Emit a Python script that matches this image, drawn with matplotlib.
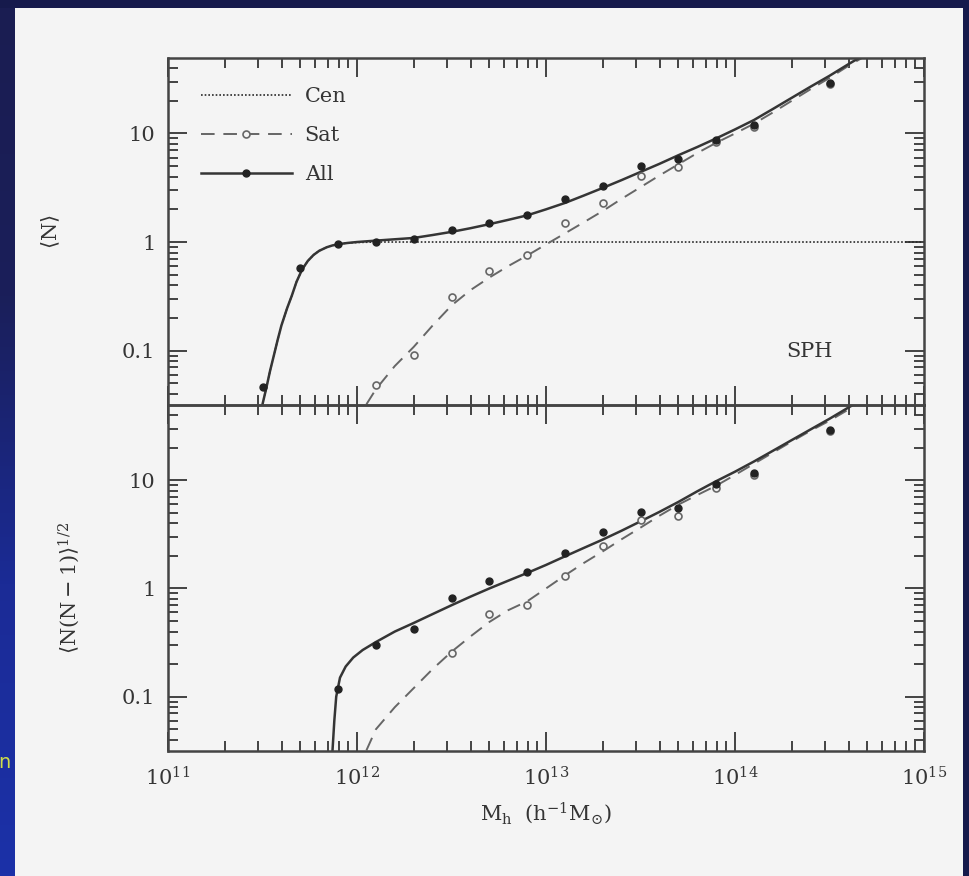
import numpy as np
import matplotlib
matplotlib.use('Agg')
import matplotlib.pyplot as plt
from matplotlib.lines import Line2D
from matplotlib.patches import Rectangle
from matplotlib.colors import LinearSegmentedColormap

plt.rcParams['font.family'] = ['DejaVu Serif']
plt.rcParams['mathtext.fontset'] = 'dejavuserif'

# ---- data ----
# top panel: <N>, points
all_mass = [3.2e11, 5.0e11, 7.9e11, 1.26e12, 2.0e12, 3.2e12, 5.0e12, 7.9e12,
            1.26e13, 2.0e13, 3.2e13, 5.0e13, 7.9e13, 1.26e14, 3.2e14]
all_n = [0.046, 0.58, 0.96, 1.00, 1.06, 1.29, 1.51, 1.77,
         2.47, 3.28, 5.0, 5.8, 8.7, 12.0, 29.0]
sat_mass = [1.26e12, 2.0e12, 3.2e12, 5.0e12, 7.9e12, 1.26e13,
            2.0e13, 3.2e13, 5.0e13, 7.9e13, 1.26e14, 3.2e14]
sat_n = [0.048, 0.091, 0.31, 0.54, 0.76, 1.49, 2.30, 4.1, 4.9, 8.4, 11.5, 28.5]

# top panel: model curves (log10 mass, value)
cen_logm = [11.45, 11.50, 11.52, 11.54, 11.56, 11.58, 11.60, 11.63, 11.655, 11.68,
            11.71, 11.74, 11.77, 11.80, 11.84, 11.87, 11.91, 11.95, 12.0, 12.1,
            12.3, 15.0]
cen_n = [0.02, 0.032, 0.045, 0.065, 0.09, 0.125, 0.17, 0.245, 0.32, 0.43,
         0.56, 0.67, 0.76, 0.83, 0.895, 0.93, 0.96, 0.98, 0.99, 1.0,
         1.0, 1.0]
allc_logm = [11.50, 11.52, 11.54, 11.56, 11.58, 11.60, 11.63, 11.655, 11.68, 11.71,
             11.74, 11.77, 11.80, 11.84, 11.87, 11.91, 11.95, 12.0,
             12.1, 12.2, 12.3, 12.4, 12.5, 12.6, 12.7, 12.8, 12.9, 13.0, 13.1,
             13.2, 13.3, 13.4, 13.5, 13.6, 13.7, 13.8, 13.9, 14.0, 14.1, 14.2,
             14.3, 14.4, 14.5, 14.6, 14.7]
allc_n = [0.032, 0.045, 0.065, 0.09, 0.125, 0.17, 0.245, 0.32, 0.43, 0.56,
          0.67, 0.76, 0.83, 0.895, 0.93, 0.96, 0.98, 1.0,
          1.03, 1.06, 1.09, 1.16, 1.24, 1.34, 1.46, 1.60, 1.76, 2.0, 2.29,
          2.68, 3.15, 3.72, 4.42, 5.25, 6.3, 7.5, 9.0, 10.9, 13.3, 16.8,
          21.3, 27.0, 34.0, 43.5, 55.0]
satc_logm = [12.05, 12.1, 12.2, 12.3, 12.4, 12.5, 12.6, 12.7, 12.8, 12.9, 13.0,
             13.1, 13.2, 13.3, 13.4, 13.5, 13.6, 13.7, 13.8, 13.9, 14.0, 14.1,
             14.2, 14.3, 14.4, 14.5, 14.6, 14.7]
satc_n = [0.032, 0.044, 0.072, 0.108, 0.17, 0.26, 0.36, 0.47, 0.60, 0.75, 0.95,
          1.2, 1.52, 1.93, 2.5, 3.2, 4.1, 5.2, 6.6, 8.2, 10.0, 12.3,
          15.6, 20.0, 25.6, 32.5, 42.0, 53.0]

# bottom panel: <N(N-1)>^1/2, points
pall_mass = [7.9e11, 1.26e12, 2.0e12, 3.2e12, 5.0e12, 7.9e12, 1.26e13,
             2.0e13, 3.2e13, 5.0e13, 7.9e13, 1.26e14, 3.2e14]
pall_n = [0.117, 0.30, 0.42, 0.82, 1.18, 1.43, 2.15, 3.3, 5.05, 5.5, 9.2, 11.6, 29.2]
psat_mass = [3.2e12, 5.0e12, 7.9e12, 1.26e13, 2.0e13, 3.2e13, 5.0e13,
             7.9e13, 1.26e14, 3.2e14]
psat_n = [0.255, 0.58, 0.70, 1.30, 2.49, 4.3, 4.64, 8.5, 11.3, 28.5]

# bottom panel: model curves
pallc_logm = [11.87, 11.88, 11.89, 11.91, 11.94, 11.98, 12.03, 12.1, 12.2, 12.3,
              12.4, 12.5, 12.6, 12.7, 12.8, 12.9, 13.0, 13.1, 13.2, 13.3, 13.4,
              13.5, 13.6, 13.7, 13.8, 13.9, 14.0, 14.1, 14.2, 14.3, 14.4, 14.5,
              14.6, 14.7]
pallc_n = [0.031, 0.06, 0.10, 0.15, 0.19, 0.23, 0.27, 0.32, 0.40, 0.48,
           0.58, 0.70, 0.84, 1.0, 1.18, 1.39, 1.65, 1.98, 2.37, 2.83, 3.42,
           4.17, 5.1, 6.3, 7.9, 9.8, 12.0, 14.9, 18.7, 23.5, 29.5, 37.0,
           47.0, 59.0]
psatc_logm = [12.05, 12.1, 12.2, 12.3, 12.4, 12.5, 12.6, 12.7, 12.8, 12.9, 13.0,
              13.1, 13.2, 13.3, 13.4, 13.5, 13.6, 13.7, 13.8, 13.9, 14.0, 14.1,
              14.2, 14.3, 14.4, 14.5, 14.6, 14.7]
psatc_n = [0.032, 0.05, 0.08, 0.12, 0.18, 0.26, 0.36, 0.49, 0.63, 0.76, 1.0,
           1.32, 1.72, 2.2, 2.85, 3.65, 4.7, 5.95, 7.3, 8.9, 11.2, 14.2,
           18.0, 22.8, 28.7, 35.5, 45.0, 57.0]

ytick_vals = [0.1, 1, 10]
ytick_labels = ['0.1', '1', '10']

ink = '#353535'
grey = '#666666'

fig = plt.figure(figsize=(9.7, 8.76), dpi=100, facecolor='#161a4c')
fig.add_artist(Rectangle((15/970, 0), 948/970, 868/876, transform=fig.transFigure,
                         facecolor='#f4f4f4', edgecolor='none', zorder=0))
# slide's blue side strip
band = fig.add_axes([0, 0, 15/970, 868/876])
band.imshow(np.linspace(0, 1, 256).reshape(-1, 1), aspect='auto',
            cmap=LinearSegmentedColormap.from_list(
                'band', ['#1a1d52', '#1a1f5a', '#1b2b96', '#1c31a8'], N=256))
band.axis('off')
fig.text(-0.002, 1 - 762/876, 'n', color='#cfdc4a', fontsize=14,
         family='DejaVu Sans', ha='left', va='center')

ax1 = fig.add_axes([168/970, 471/876, 756/970, 347/876])
ax2 = fig.add_axes([168/970, 125/876, 756/970, 346/876], sharex=ax1)

for ax in (ax1, ax2):
    ax.set_facecolor('none')
    ax.set_xscale('log')
    ax.set_yscale('log')
    ax.set_xlim(1e11, 1e15)
    ax.set_ylim(0.0315, 49.6)
    ax.set_yticks(ytick_vals, ytick_labels)
    ax.tick_params(which='both', direction='in', top=True, right=True,
                   colors=ink, width=1.3, labelsize=15)
    ax.tick_params(which='major', length=14, pad=9)
    ax.tick_params(which='minor', length=7.5)
    for s in ax.spines.values():
        s.set_linewidth(1.8)
        s.set_color('#444444')

ax1.tick_params(labelbottom=False)
ax2.tick_params(axis='x', pad=11)

cen_style = dict(color='#2a2a2a', lw=1.2, ls=(0, (1, 1.2)))
sat_style = dict(color=grey, lw=1.4, dashes=(7, 4.5))
all_style = dict(color=ink, lw=1.8)

# top panel
ax1.plot(10 ** np.array(cen_logm), cen_n, **cen_style)
ax1.plot(10 ** np.array(satc_logm), satc_n, **sat_style)
ax1.plot(10 ** np.array(allc_logm), allc_n, **all_style)
ax1.plot(sat_mass, sat_n, 'o', ms=5, mfc='#f4f4f4', mec=grey, mew=1.2)
ax1.plot(all_mass, all_n, 'o', ms=5, color='#222222')

# bottom panel
ax2.plot(10 ** np.array(psatc_logm), psatc_n, **sat_style)
ax2.plot(10 ** np.array(pallc_logm), pallc_n, **all_style)
ax2.plot(psat_mass, psat_n, 'o', ms=5, mfc='#f4f4f4', mec=grey, mew=1.2)
ax2.plot(pall_mass, pall_n, 'o', ms=5, color='#222222')

handles = [
    Line2D([], [], **cen_style),
    Line2D([], [], marker='o', ms=5, mfc='#f4f4f4', mec=grey, mew=1.2, **sat_style),
    Line2D([], [], marker='o', ms=5, mfc='#222222', mec='#222222', **all_style),
]
leg = ax1.legend(handles, ['Cen', 'Sat', 'All'], loc='upper left',
                 bbox_to_anchor=(0.043, 0.915), frameon=False, fontsize=15,
                 handlelength=4.4, handletextpad=0.6, labelspacing=0.95,
                 borderpad=0, borderaxespad=0, numpoints=1)
for t in leg.get_texts():
    t.set_color(ink)

ax1.text(0.849, 0.153, 'SPH', transform=ax1.transAxes, fontsize=15,
         color=ink, ha='center', va='center')

ax1.set_ylabel(r'$\langle\mathrm{N}\rangle$', fontsize=15, color=ink)
ax1.yaxis.set_label_coords(-0.14, 0.5)
ax2.set_ylabel(r'$\langle\mathrm{N(N-1)}\rangle^{1/2}$', fontsize=15, color=ink)
ax2.yaxis.set_label_coords(-0.114, 0.47)
ax2.set_xlabel(r'M$_{\rm h}$  (h$^{-1}$M$_{\odot}$)', fontsize=15, color=ink,
               labelpad=8)

fig.savefig('out.png', dpi=100, facecolor=fig.get_facecolor())
